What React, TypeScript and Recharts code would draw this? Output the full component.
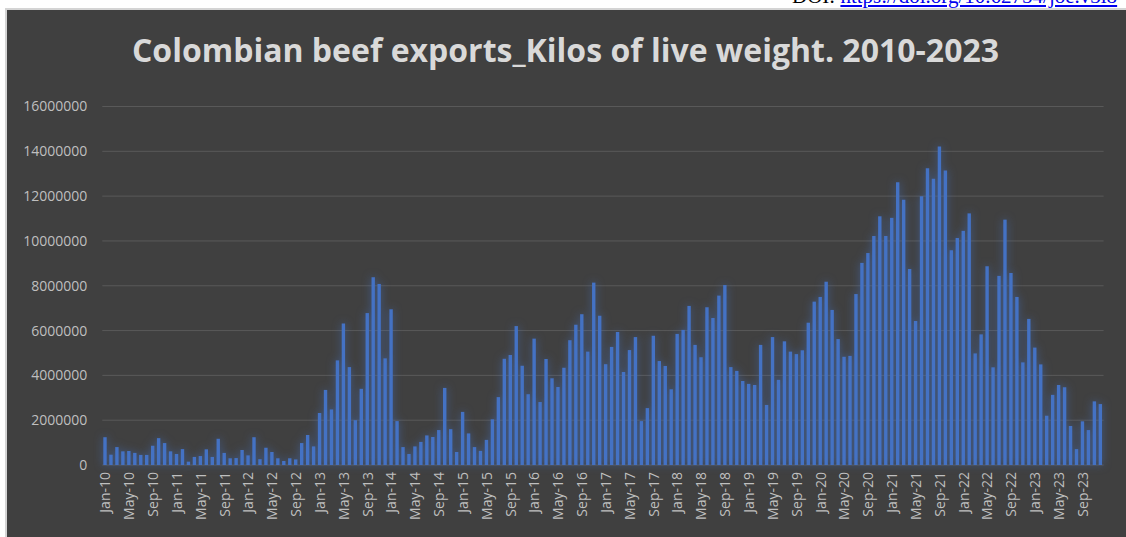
import React from 'react';
import { BarChart, Bar, XAxis, YAxis, CartesianGrid } from 'recharts';

// Month and year parts of the category labels (e.g. "Jan-10")
const MONTHS = ['Jan', 'Feb', 'Mar', 'Apr', 'May', 'Jun', 'Jul', 'Aug', 'Sep', 'Oct', 'Nov', 'Dec'];
const YEARS = ['10', '11', '12', '13', '14', '15', '16', '17', '18', '19', '20', '21', '22', '23'];

// Monthly exports, kilos of live weight
const kilos2010 = [1240000, 460000, 800000, 610000, 630000, 540000, 450000, 450000, 860000, 1200000, 980000, 610000];
const kilos2011 = [490000, 710000, 150000, 360000, 400000, 700000, 360000, 1170000, 540000, 300000, 310000, 670000];
const kilos2012 = [430000, 1240000, 260000, 770000, 580000, 300000, 180000, 300000, 250000, 980000, 1340000, 830000];
const kilos2013 = [2320000, 3350000, 2480000, 4670000, 6320000, 4370000, 2000000, 3400000, 6780000, 8380000, 8080000, 4760000];
const kilos2014 = [6950000, 1960000, 800000, 490000, 830000, 1030000, 1320000, 1250000, 1560000, 3440000, 1600000, 580000];
const kilos2015 = [2370000, 1410000, 800000, 630000, 1120000, 2040000, 3030000, 4740000, 4910000, 6200000, 4430000, 3160000];
const kilos2016 = [5640000, 2810000, 4730000, 3870000, 3480000, 4340000, 5570000, 6260000, 6730000, 5060000, 8140000, 6660000];
const kilos2017 = [4500000, 5270000, 5940000, 4150000, 5130000, 5710000, 1960000, 2540000, 5770000, 4640000, 4420000, 3380000];
const kilos2018 = [5850000, 6030000, 7100000, 5360000, 4810000, 7040000, 6560000, 7560000, 8030000, 4370000, 4200000, 3750000];
const kilos2019 = [3620000, 3570000, 5360000, 2680000, 5710000, 3800000, 5520000, 5060000, 4950000, 5120000, 6350000, 7290000];
const kilos2020 = [7500000, 8180000, 6920000, 5620000, 4830000, 4870000, 7630000, 9020000, 9460000, 10220000, 11100000, 10220000];
const kilos2021 = [11030000, 12620000, 11840000, 8750000, 6430000, 12000000, 13240000, 12780000, 14210000, 13140000, 9580000, 10130000];
const kilos2022 = [10450000, 11230000, 4980000, 5830000, 8870000, 4360000, 8440000, 10950000, 8570000, 7500000, 4580000, 6520000];
const kilos2023 = [5240000, 4490000, 2200000, 3130000, 3570000, 3470000, 1740000, 710000, 1950000, 1560000, 2840000, 2720000];

const KILOS_BY_YEAR = [
  kilos2010, kilos2011, kilos2012, kilos2013, kilos2014, kilos2015, kilos2016,
  kilos2017, kilos2018, kilos2019, kilos2020, kilos2021, kilos2022, kilos2023,
];

const Y_TICKS = [0, 2000000, 4000000, 6000000, 8000000, 10000000, 12000000, 14000000, 16000000];

const TITLE = 'Colombian beef exports_Kilos of live weight. 2010-2023';

const data = YEARS.flatMap((yy, yi) =>
  MONTHS.map((mm, mi) => ({ month: `${mm}-${yy}`, kilos: KILOS_BY_YEAR[yi][mi] }))
);

const FONT = '"Open Sans", "Noto Sans", sans-serif';

const MonthTick = (props: any) => {
  const { x, y, payload } = props;
  return (
    <text
      x={x}
      y={y}
      transform={`rotate(-90, ${x}, ${y})`}
      textAnchor="end"
      dy="0.36em"
      fill="#bfbfbf"
      fontSize={14}
      fontFamily={FONT}
    >
      {payload.value}
    </text>
  );
};

export default function App() {
  return (
    <div
      style={{
        position: 'absolute',
        left: 0,
        top: 0,
        width: 1126,
        height: 537,
        overflow: 'hidden',
        background: '#ffffff',
      }}
    >
      <style>{`.glow-bars .recharts-bar-rectangles { filter: drop-shadow(0 0 4px rgba(68,114,196,0.65)); }`}</style>
      <div
        style={{
          position: 'absolute',
          left: 792,
          top: -14,
          fontFamily: '"Liberation Serif", serif',
          fontSize: 21,
          lineHeight: '20px',
          whiteSpace: 'nowrap',
          color: '#000',
        }}
      >
        DOI: <span style={{ color: '#0000ee', textDecoration: 'underline' }}>https://doi.org/10.62754/joe.v3i8</span>
      </div>
      <div
        style={{
          position: 'absolute',
          left: 5,
          top: 8,
          width: 1125,
          height: 535,
          background: '#404040',
          borderLeft: '2px solid #d4d4d4',
          borderTop: '2px solid #d4d4d4',
        }}
      />
      <div
        style={{
          position: 'absolute',
          left: 5,
          width: 1121,
          top: 28,
          textAlign: 'center',
          fontFamily: FONT,
          fontWeight: 700,
          fontSize: 32,
          lineHeight: 'normal',
          color: '#d9d9d9',
          whiteSpace: 'nowrap',
        }}
      >
        {TITLE}
      </div>
      <div style={{ position: 'absolute', left: 0, top: 0 }} className="glow-bars">
        <BarChart
          width={1126}
          height={537}
          data={data}
          margin={{ top: 106.5, right: 22.4, left: 0, bottom: 12 }}
          barCategoryGap={1.3}
        >
          <CartesianGrid horizontal vertical={false} stroke="#595959" strokeWidth={1} />
          <XAxis
            dataKey="month"
            height={60}
            interval={3}
            tickLine={false}
            axisLine={false}
            tickSize={0}
            tickMargin={7}
            tick={<MonthTick />}
          />
          <YAxis
            width={102.3}
            domain={[0, 16000000]}
            ticks={Y_TICKS}
            tickLine={false}
            axisLine={false}
            tickSize={0}
            tickMargin={15}
            tick={{ fill: '#bfbfbf', fontSize: 14, fontFamily: FONT }}
          />
          <Bar dataKey="kilos" fill="#4472c4" barSize={3.4} isAnimationActive={false} />
        </BarChart>
      </div>
    </div>
  );
}
